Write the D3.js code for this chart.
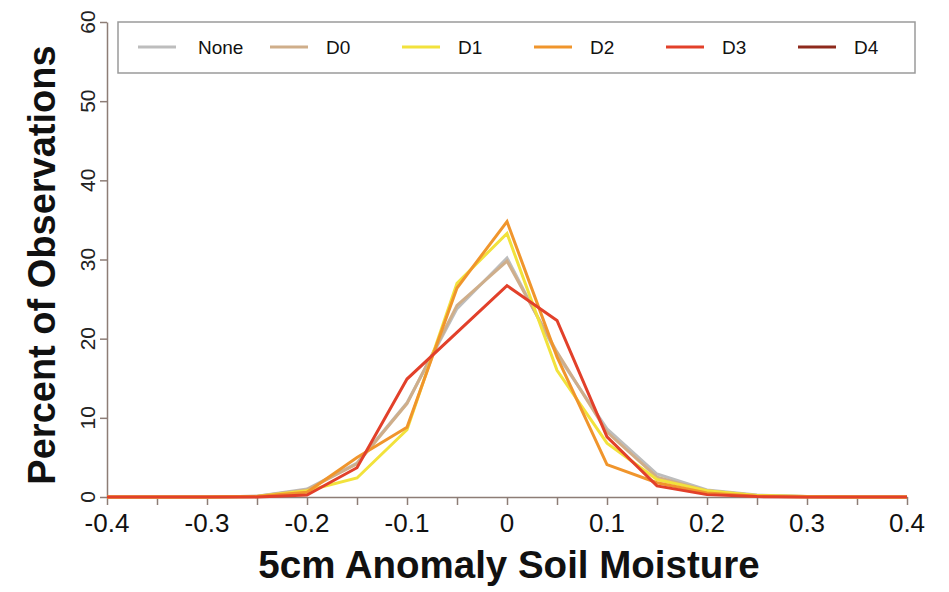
<!DOCTYPE html>
<html>
<head>
<meta charset="utf-8">
<script src="https://cdn.jsdelivr.net/npm/d3@7"></script>
<style>
  body { margin: 0; background: #fff; }
  text { font-family: "Liberation Sans", Arial, sans-serif; }
</style>
</head>
<body>
<div id="d3-container"></div>
<script>
// x positions (5cm anomaly soil moisture bins)
const bins = [-0.4, -0.35, -0.3, -0.25, -0.2, -0.15, -0.1, -0.05, 0, 0.05, 0.1, 0.15, 0.2, 0.25, 0.3, 0.35, 0.4];

const seriesNames = ["None", "D0", "D1", "D2", "D3", "D4"];
const seriesColors = ["#bdbdbd", "#cfae8a", "#f2e23c", "#f0952c", "#e2402a", "#8e2a1c"];

// percent of observations per bin
const noneVals = [0, 0, 0, 0.1, 1.0, 4.3, 11.9, 23.8, 30.2, 18.0, 8.6, 2.9, 0.9, 0.25, 0.05, 0, 0];
const d0Vals   = [0, 0, 0, 0.1, 0.9, 4.2, 11.8, 24.2, 29.8, 18.3, 8.2, 2.5, 0.8, 0.2, 0.05, 0, 0];
const d1Vals   = [0, 0, 0, 0.05, 0.8, 2.4, 8.5, 27.0, 33.3, 16.0, 6.8, 2.2, 0.8, 0.2, 0.05, 0, 0];
const d2Vals   = [0, 0, 0, 0.05, 0.6, 5.0, 8.8, 26.4, 34.8, 17.7, 4.1, 1.8, 0.5, 0.1, 0, 0, 0];
const d3Vals   = [0, 0, 0, 0, 0.25, 3.7, 14.9, 20.8, 26.7, 22.3, 7.6, 1.4, 0.3, 0.05, 0, 0, 0];
const d4Vals   = []; // no visible D4 line in the figure

const allVals = [noneVals, d0Vals, d1Vals, d2Vals, d3Vals, d4Vals];

const xTicks = [-0.4, -0.3, -0.2, -0.1, 0, 0.1, 0.2, 0.3, 0.4];
const xMinorTicks = d3.range(-0.4, 0.4001, 0.05);
const yTicks = [0, 10, 20, 30, 40, 50, 60];

const W = 949, H = 592;
const margin = { top: 22, right: 42, bottom: 95, left: 107 };
const width = W - margin.left - margin.right;
const height = H - margin.top - margin.bottom;

const svg = d3.select("#d3-container")
    .append("svg")
    .attr("width", W)
    .attr("height", H);

const g = svg.append("g")
    .attr("transform", "translate(" + margin.left + "," + margin.top + ")");

const xScale = d3.scaleLinear().domain([-0.4, 0.4]).range([0, width]);
const yScale = d3.scaleLinear().domain([0, 60]).range([height, 0]);

const axisColor = "#8d7d76";

// x axis
const xAxis = g.append("g")
    .attr("transform", "translate(0," + height + ")")
    .call(d3.axisBottom(xScale).tickValues(xMinorTicks).tickSize(8).tickFormat("").tickSizeOuter(0));
xAxis.select(".domain").attr("stroke", axisColor).attr("stroke-width", 1.5);
xAxis.selectAll(".tick line").attr("stroke", axisColor).attr("stroke-width", 1.5);

g.append("g")
    .selectAll("text")
    .data(xTicks)
    .join("text")
    .attr("x", d => xScale(d))
    .attr("y", height + 35)
    .attr("text-anchor", "middle")
    .attr("font-size", 26)
    .attr("fill", "#111")
    .text(d => String(+d.toFixed(1)));

// y axis
const yAxis = g.append("g")
    .call(d3.axisLeft(yScale).tickValues(yTicks).tickSize(7).tickFormat("").tickSizeOuter(0));
yAxis.select(".domain").attr("stroke", axisColor).attr("stroke-width", 1.5);
yAxis.selectAll(".tick line").attr("stroke", axisColor).attr("stroke-width", 1.5);

g.append("g")
    .selectAll("text")
    .data(yTicks)
    .join("text")
    .attr("transform", d => "translate(-12," + yScale(d) + ") rotate(-90)")
    .attr("text-anchor", "middle")
    .attr("font-size", 21)
    .attr("fill", "#222")
    .text(d => d);

// axis titles
svg.append("text")
    .attr("x", margin.left + width / 2 + 2)
    .attr("y", 578)
    .attr("text-anchor", "middle")
    .attr("font-size", 38.5)
    .attr("font-weight", "bold")
    .attr("fill", "#111")
    .text("5cm Anomaly Soil Moisture");

svg.append("text")
    .attr("transform", "translate(55,265) rotate(-90)")
    .attr("text-anchor", "middle")
    .attr("font-size", 38)
    .attr("font-weight", "bold")
    .attr("fill", "#111")
    .text("Percent of Observations");

// lines
const line = d3.line()
    .x((d, i) => xScale(bins[i]))
    .y(d => yScale(d));

allVals.forEach((vals, k) => {
    if (!vals.length) return;
    g.append("path")
        .datum(vals)
        .attr("fill", "none")
        .attr("stroke", seriesColors[k])
        .attr("stroke-width", 3)
        .attr("stroke-linejoin", "miter")
        .attr("d", line);
});

// legend
const legend = svg.append("g");
legend.append("rect")
    .attr("x", 118)
    .attr("y", 22)
    .attr("width", 797)
    .attr("height", 51)
    .attr("fill", "#fff")
    .attr("stroke", "#9a9a9a")
    .attr("stroke-width", 1.5);

const legX = d3.scaleBand().domain(seriesNames).range([138, 138 + 6 * 132]);

const items = legend.selectAll("g.item")
    .data(seriesNames)
    .join("g")
    .attr("class", "item")
    .attr("transform", d => "translate(" + legX(d) + ",47)");

items.append("line")
    .attr("x1", 0).attr("x2", 38)
    .attr("stroke", (d, i) => seriesColors[i])
    .attr("stroke-width", 3);

items.append("text")
    .attr("x", (d, i) => i === 0 ? 60 : 56)
    .attr("dy", "0.36em")
    .attr("font-size", 19)
    .attr("fill", "#111")
    .text(d => d);
</script>
</body>
</html>
